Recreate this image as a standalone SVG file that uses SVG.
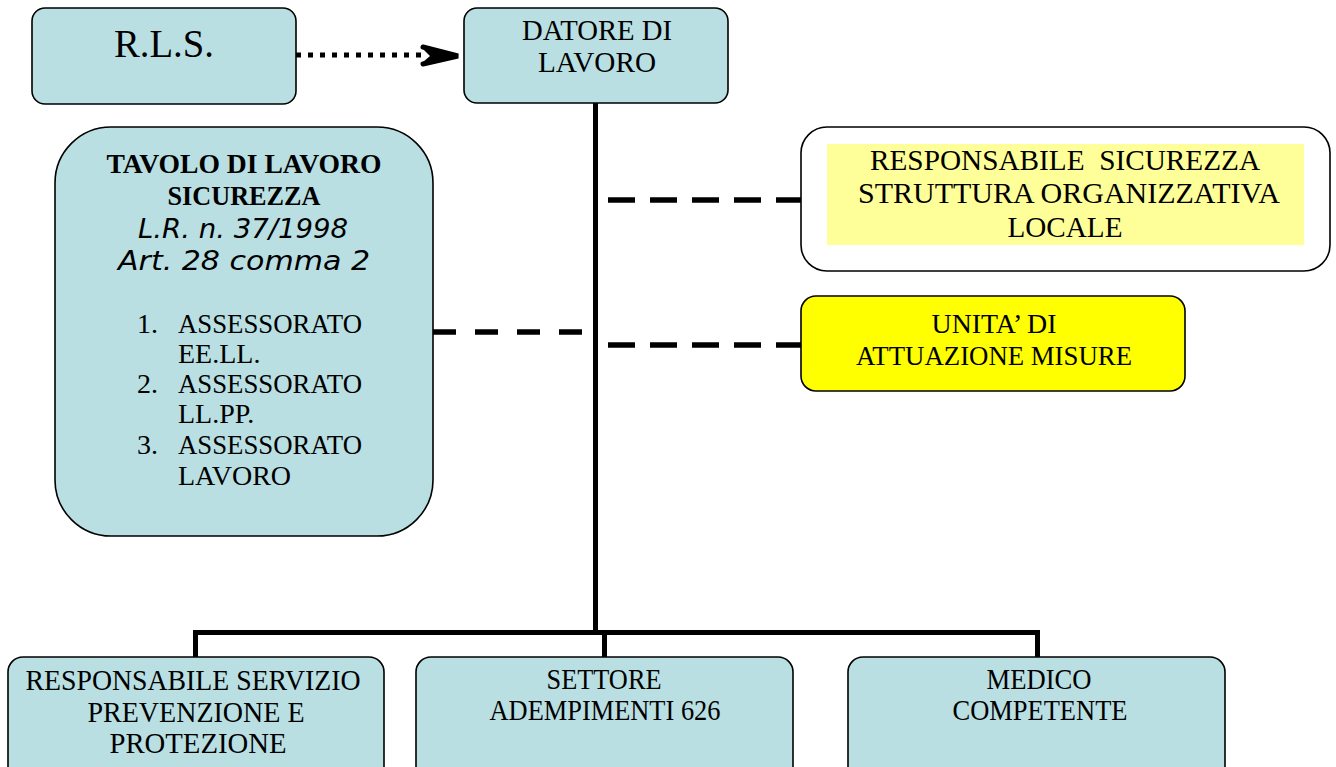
<svg xmlns="http://www.w3.org/2000/svg" width="1336" height="767" viewBox="0 0 1336 767">
<style>
.box{fill:#b9dfe3;stroke:#000;stroke-width:1.6}
.t{font-family:"Liberation Serif","Times New Roman",serif;fill:#000;text-anchor:middle}
.it{font-family:"DejaVu Sans",Verdana,sans-serif;font-style:italic;fill:#000;text-anchor:middle}
.conn{stroke:#000;fill:none}
</style>
<rect width="1336" height="767" fill="#fff"/>
<g id="connectors">
  <line class="conn" x1="296" y1="55" x2="421" y2="55" stroke-width="5" stroke-dasharray="5 7"/>
  <polyline class="conn" points="423,47 458,56 423,64" stroke-width="5" stroke-linejoin="miter" stroke-linecap="round"/>
  <polygon points="423,49 458,56 423,62 430,56" fill="#000"/>
  <line class="conn" x1="595.5" y1="103" x2="595.5" y2="635" stroke-width="5"/>
  <line class="conn" x1="193" y1="632.5" x2="1040" y2="632.5" stroke-width="5"/>
  <line class="conn" x1="195.5" y1="630" x2="195.5" y2="657" stroke-width="5"/>
  <line class="conn" x1="604.5" y1="630" x2="604.5" y2="657" stroke-width="5"/>
  <line class="conn" x1="1037.5" y1="630" x2="1037.5" y2="657" stroke-width="5"/>
  <line class="conn" x1="608" y1="200" x2="801" y2="200" stroke-width="5.5" stroke-dasharray="27 15"/>
  <line class="conn" x1="608" y1="345" x2="801" y2="345" stroke-width="5.5" stroke-dasharray="27 15"/>
  <line class="conn" x1="433" y1="332" x2="584" y2="332" stroke-width="5.5" stroke-dasharray="23 19"/>
</g>
<g id="rls">
  <rect class="box" x="32" y="8" width="264" height="96" rx="13"/>
  <text class="t" x="164" y="57" font-size="39" textLength="100" lengthAdjust="spacingAndGlyphs">R.L.S.</text>
</g>
<g id="datore">
  <rect class="box" x="464" y="8" width="264" height="95" rx="13"/>
  <text class="t" x="597" y="40" font-size="30" textLength="150" lengthAdjust="spacingAndGlyphs">DATORE DI</text>
  <text class="t" x="597" y="72" font-size="30" textLength="118" lengthAdjust="spacingAndGlyphs">LAVORO</text>
</g>
<g id="tavolo">
  <rect class="box" x="55" y="127" width="378" height="409" rx="56"/>
  <text class="t" x="244" y="173" font-size="27" font-weight="bold" textLength="275" lengthAdjust="spacingAndGlyphs">TAVOLO DI LAVORO</text>
  <text class="t" x="244" y="205" font-size="27" font-weight="bold" textLength="153" lengthAdjust="spacingAndGlyphs">SICUREZZA</text>
  <text class="it" x="243" y="238" font-size="27" textLength="210" lengthAdjust="spacingAndGlyphs">L.R. n. 37/1998</text>
  <text class="it" x="244" y="270" font-size="27" textLength="252" lengthAdjust="spacingAndGlyphs">Art. 28 comma 2</text>
  <g class="t" font-size="28" style="text-anchor:start">
    <text x="137" y="333">1.</text><text x="178" y="333" textLength="184" lengthAdjust="spacingAndGlyphs">ASSESSORATO</text>
    <text x="178" y="363">EE.LL.</text>
    <text x="137" y="393">2.</text><text x="178" y="393" textLength="184" lengthAdjust="spacingAndGlyphs">ASSESSORATO</text>
    <text x="178" y="423">LL.PP.</text>
    <text x="137" y="454">3.</text><text x="178" y="454" textLength="184" lengthAdjust="spacingAndGlyphs">ASSESSORATO</text>
    <text x="178" y="485">LAVORO</text>
  </g>
</g>
<g id="resp-sicurezza">
  <rect x="801" y="127" width="529" height="144" rx="26" fill="#fff" stroke="#000" stroke-width="1.6"/>
  <rect x="827" y="144" width="477" height="101" fill="#ffff99"/>
  <text class="t" x="1065" y="170" font-size="29" xml:space="preserve" textLength="390" lengthAdjust="spacingAndGlyphs">RESPONSABILE  SICUREZZA</text>
  <text class="t" x="1069" y="203" font-size="29" textLength="422" lengthAdjust="spacingAndGlyphs">STRUTTURA ORGANIZZATIVA</text>
  <text class="t" x="1065" y="237" font-size="29" textLength="115" lengthAdjust="spacingAndGlyphs">LOCALE</text>
</g>
<g id="unita">
  <rect x="801" y="296" width="384" height="95" rx="15" fill="#ffff00" stroke="#000" stroke-width="1.6"/>
  <text class="t" x="994" y="333" font-size="27" textLength="125" lengthAdjust="spacingAndGlyphs">UNITA’ DI</text>
  <text class="t" x="994" y="365" font-size="27" textLength="276" lengthAdjust="spacingAndGlyphs">ATTUAZIONE MISURE</text>
</g>
<g id="rspp">
  <rect class="box" x="8" y="657" width="376" height="125" rx="15"/>
  <text class="t" x="193" y="690" font-size="30" textLength="335" lengthAdjust="spacingAndGlyphs">RESPONSABILE SERVIZIO</text>
  <text class="t" x="196" y="722" font-size="30" textLength="217" lengthAdjust="spacingAndGlyphs">PREVENZIONE E</text>
  <text class="t" x="198" y="753" font-size="30" textLength="177" lengthAdjust="spacingAndGlyphs">PROTEZIONE</text>
</g>
<g id="settore">
  <rect class="box" x="416" y="657" width="377" height="125" rx="15"/>
  <text class="t" x="604" y="689" font-size="29" textLength="115" lengthAdjust="spacingAndGlyphs">SETTORE</text>
  <text class="t" x="605" y="720" font-size="29" textLength="231" lengthAdjust="spacingAndGlyphs">ADEMPIMENTI 626</text>
</g>
<g id="medico">
  <rect class="box" x="848" y="657" width="377" height="125" rx="15"/>
  <text class="t" x="1039" y="689" font-size="29" textLength="105" lengthAdjust="spacingAndGlyphs">MEDICO</text>
  <text class="t" x="1040" y="720" font-size="29" textLength="175" lengthAdjust="spacingAndGlyphs">COMPETENTE</text>
</g>
</svg>
